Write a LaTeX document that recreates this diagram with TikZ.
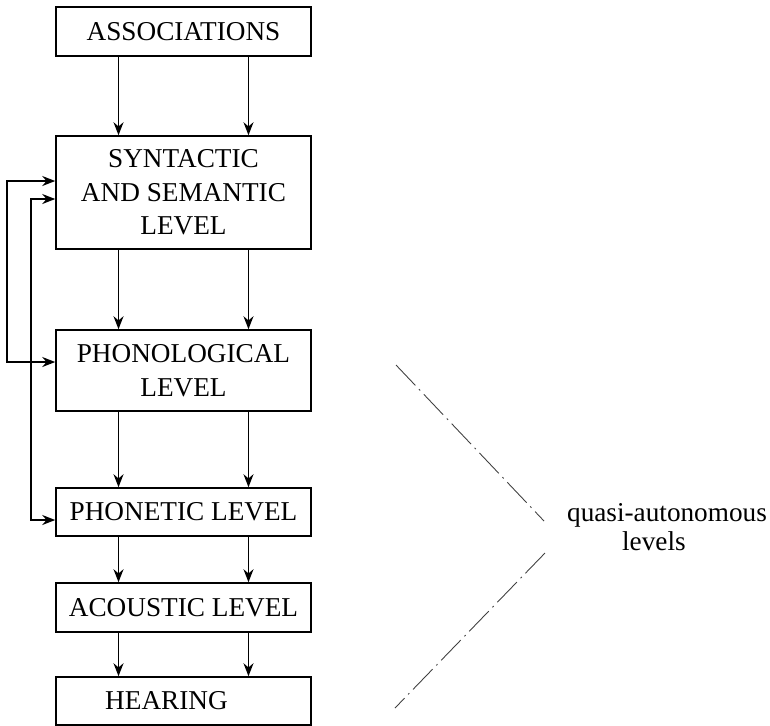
\documentclass[tikz,border=0pt]{standalone}
\usepackage{fontspec}
\setmainfont{Liberation Serif}
\usetikzlibrary{arrows.meta, positioning, calc}

\begin{document}
\begin{tikzpicture}[x=0.02cm, y=-0.02cm,
  level/.style={draw, line width=0.9pt, minimum width=5.1cm, inner sep=0pt, align=center,
    font=\fontsize{15.5}{19}\selectfont},
  flow/.style={line width=0.9pt, -{Stealth[length=2.6mm, width=2mm]}},
  back/.style={line width=0.9pt, {Stealth[length=2.6mm, width=2mm]}-{Stealth[length=2.6mm, width=2mm]}},
  bracket/.style={line width=0.5pt, black!75, dash pattern=on 16pt off 3pt on 1pt off 3pt}]
  \useasboundingbox (0,0) rectangle (770,725);

  % === LEVELS ===
  \node[level, minimum height=0.98cm] (assoc) at (183.5,31.5) {ASSOCIATIONS};
  \node[level, minimum height=2.26cm] (syn) at (183.5,192.5) {SYNTACTIC\\AND SEMANTIC\\LEVEL};
  \node[level, minimum height=1.62cm] (phonol) at (183.5,370.5) {PHONOLOGICAL\\LEVEL};
  \node[level, minimum height=0.96cm] (phonet) at (183.5,512) {PHONETIC LEVEL};
  \node[level, minimum height=0.98cm] (acou) at (183.5,607.5) {ACOUSTIC LEVEL};
  \node[level, minimum height=0.96cm] (hear) at (183.5,701) {HEARING\hspace*{0.68cm}};

  % Arrows down
  \foreach \a/\b in {assoc/syn, syn/phonol, phonol/phonet, phonet/acou, acou/hear} {
    \draw[flow] ([xshift=-1.3cm]\a.south) -- ([xshift=-1.3cm]\b.north);
    \draw[flow] ([xshift=1.3cm]\a.south) -- ([xshift=1.3cm]\b.north);
  }

  % Feedback loops
  \draw[back] ([yshift=0.23cm]syn.west) -- ++(-0.96cm,0) |- ([yshift=0.17cm]phonol.west);
  \draw[back] ([yshift=-0.13cm]syn.west) -- ++(-0.48cm,0) |- ([yshift=-0.16cm]phonet.west);

  % Quasi-autonomous levels
  \node[align=left, font=\fontsize{15.5}{16.5}\selectfont] (quasi) at (667,527)
    {quasi-autonomous\\\hspace*{1.1cm}levels};
  \coordinate (up1) at (396,365);
  \coordinate (up2) at (544,521);
  \coordinate (lo1) at (545,553);
  \coordinate (lo2) at (395,708);
  \draw[bracket] (up1) -- (up2);
  \draw[bracket] (lo1) -- (lo2);
\end{tikzpicture}
\end{document}
